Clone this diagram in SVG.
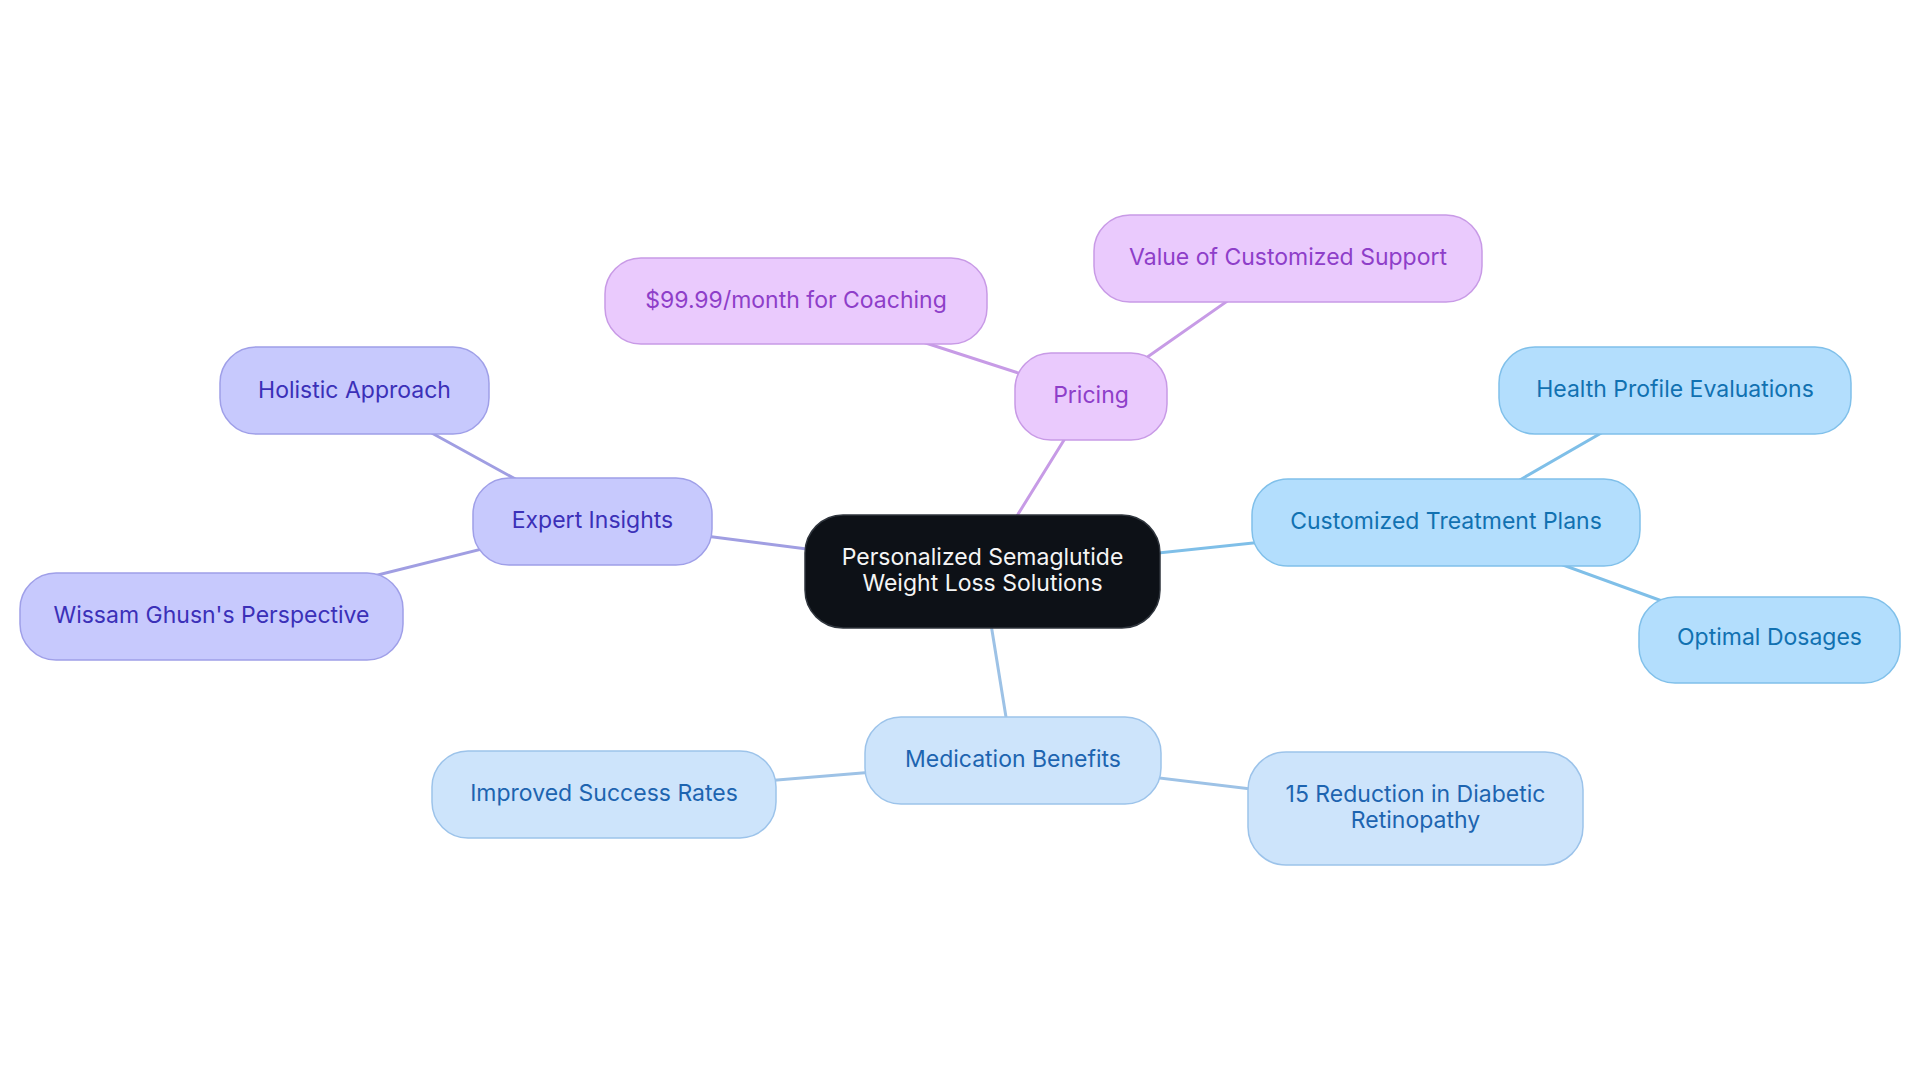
<svg xmlns="http://www.w3.org/2000/svg" width="1920" height="1083" viewBox="0 0 1920 1083">
<style>
text{font-family:Inter,"Noto Sans","Liberation Sans",sans-serif;font-size:23px;text-anchor:middle}
.pu rect{fill:#eacafd;stroke:#c89ae6;stroke-width:1.5}
.pu text{fill:#8e3ec9}
.in rect{fill:#c7c9fd;stroke:#9f9fe8;stroke-width:1.5}
.in text{fill:#3b30b8}
.cy rect{fill:#b3defd;stroke:#80c0ea;stroke-width:1.5}
.cy text{fill:#1171b1}
.bl rect{fill:#cde4fb;stroke:#9cc3ea;stroke-width:1.5}
.bl text{fill:#1d64b0}
.root rect{fill:#0d1117;stroke:#2f353d;stroke-width:1.5}
.root text{fill:#f5f5f5}
#connectors line{stroke-width:3;stroke-linecap:round}
.lpu{stroke:#c79be6}
.lin{stroke:#a09ee2}
.lcy{stroke:#7fbfe8}
.lbl{stroke:#9dc2e6}
</style>
<rect width="1920" height="1083" fill="#ffffff"/>
<g id="connectors">
<line class="lpu" x1="982.5" y1="571.5" x2="1091" y2="396.5"/>
<line class="lpu" x1="1091" y1="396.5" x2="796" y2="301"/>
<line class="lpu" x1="1091" y1="396.5" x2="1288" y2="258.5"/>
<line class="lin" x1="982.5" y1="571.5" x2="592.5" y2="521.5"/>
<line class="lin" x1="592.5" y1="521.5" x2="354.5" y2="390.5"/>
<line class="lin" x1="592.5" y1="521.5" x2="211.5" y2="616.5"/>
<line class="lcy" x1="982.5" y1="571.5" x2="1446" y2="522.5"/>
<line class="lcy" x1="1446" y1="522.5" x2="1675" y2="390.5"/>
<line class="lcy" x1="1446" y1="522.5" x2="1769.5" y2="640"/>
<line class="lbl" x1="982.5" y1="571.5" x2="1013" y2="760.5"/>
<line class="lbl" x1="1013" y1="760.5" x2="604" y2="794.5"/>
<line class="lbl" x1="1013" y1="760.5" x2="1415.5" y2="808.5"/>
</g>
<g id="root" class="root">
<rect x="805" y="515" width="355" height="113" rx="38"/>
<text x="982.5" y="565">Personalized Semaglutide</text>
<text x="982.5" y="591">Weight Loss Solutions</text>
</g>
<g id="pricing" class="pu">
<rect x="1015" y="353" width="152" height="87" rx="36"/>
<text x="1091" y="403">Pricing</text>
</g>
<g id="coaching" class="pu">
<rect x="605" y="258" width="382" height="86" rx="36"/>
<text x="796" y="308">$99.99/month for Coaching</text>
</g>
<g id="value" class="pu">
<rect x="1094" y="215" width="388" height="87" rx="36"/>
<text x="1288" y="265">Value of Customized Support</text>
</g>
<g id="expert" class="in">
<rect x="473" y="478" width="239" height="87" rx="36"/>
<text x="592.5" y="528">Expert Insights</text>
</g>
<g id="holistic" class="in">
<rect x="220" y="347" width="269" height="87" rx="36"/>
<text x="354.5" y="398">Holistic Approach</text>
</g>
<g id="wissam" class="in">
<rect x="20" y="573" width="383" height="87" rx="36"/>
<text x="211.5" y="623">Wissam Ghusn's Perspective</text>
</g>
<g id="treatment" class="cy">
<rect x="1252" y="479" width="388" height="87" rx="36"/>
<text x="1446" y="529">Customized Treatment Plans</text>
</g>
<g id="health" class="cy">
<rect x="1499" y="347" width="352" height="87" rx="36"/>
<text x="1675" y="397">Health Profile Evaluations</text>
</g>
<g id="dosages" class="cy">
<rect x="1639" y="597" width="261" height="86" rx="36"/>
<text x="1769.5" y="645">Optimal Dosages</text>
</g>
<g id="medication" class="bl">
<rect x="865" y="717" width="296" height="87" rx="36"/>
<text x="1013" y="767">Medication Benefits</text>
</g>
<g id="improved" class="bl">
<rect x="432" y="751" width="344" height="87" rx="36"/>
<text x="604" y="801">Improved Success Rates</text>
</g>
<g id="retinopathy" class="bl">
<rect x="1248" y="752" width="335" height="113" rx="38"/>
<text x="1415.5" y="802">15 Reduction in Diabetic</text>
<text x="1415.5" y="828">Retinopathy</text>
</g>
</svg>
